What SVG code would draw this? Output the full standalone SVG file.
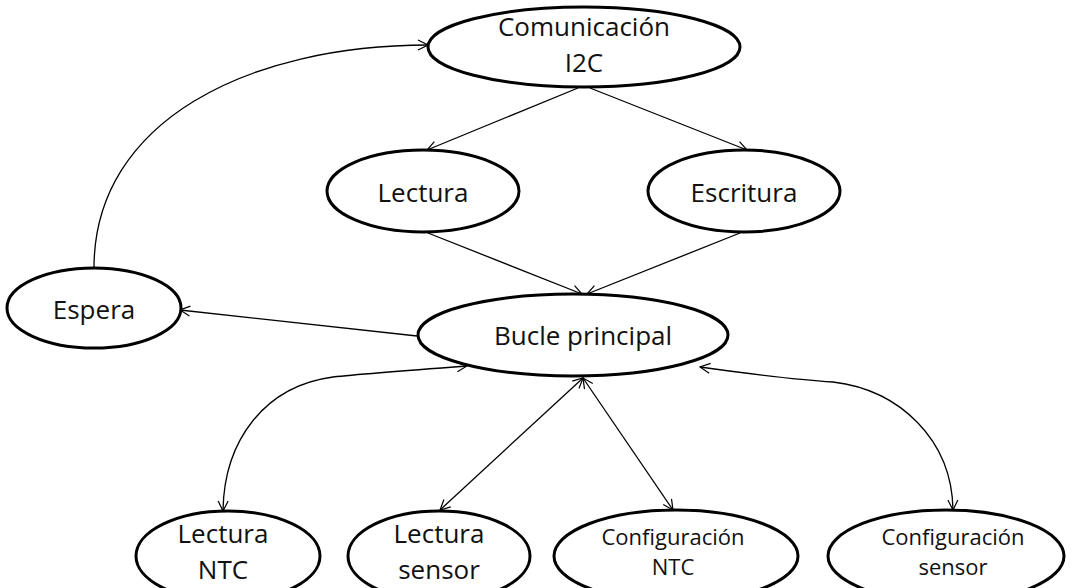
<svg xmlns="http://www.w3.org/2000/svg" width="1071" height="588" viewBox="0 0 1071 588">
<defs>
<marker id="arr" viewBox="0 0 12 12" refX="11" refY="6" markerWidth="12" markerHeight="12" markerUnits="userSpaceOnUse" orient="auto-start-reverse">
<path d="M1,1 L11,6 L1,11" fill="none" stroke="#000" stroke-width="1.2"/>
</marker>
<style>
.n ellipse{fill:#fff;stroke:#000;stroke-width:3}
.n text{font-family:"Open Sans","Liberation Sans",sans-serif;font-size:26px;fill:#111;text-anchor:middle}
.n text.s{font-size:22px}
#edges path{fill:none;stroke:#000;stroke-width:1.3}
</style>
</defs>
<rect width="1071" height="588" fill="#fff"/>
<g id="edges">
<path d="M94,268 C94,120 250,45 428,45" marker-end="url(#arr)"/>
<path d="M578,88 L427,150" marker-end="url(#arr)"/>
<path d="M590,88 L747,150" marker-end="url(#arr)"/>
<path d="M428,233 L582,294" marker-end="url(#arr)"/>
<path d="M740,233 L587,294" marker-end="url(#arr)"/>
<path d="M417,336 L180,310" marker-end="url(#arr)"/>
<path d="M467,366 C400,371 360,374 333,377 C265,386 224,440 223,511" marker-start="url(#arr)" marker-end="url(#arr)"/>
<path d="M583,378 L440,510" marker-start="url(#arr)" marker-end="url(#arr)"/>
<path d="M583,378 L673,510" marker-start="url(#arr)" marker-end="url(#arr)"/>
<path d="M700,367 C750,374 800,380 833,382 C900,390 952,440 953,510" marker-start="url(#arr)" marker-end="url(#arr)"/>
</g>
<g id="n-com" class="n"><ellipse cx="584" cy="47" rx="156" ry="40"/><text x="584" y="36">Comunicación</text><text x="584" y="72">I2C</text></g>
<g id="n-lectura" class="n"><ellipse cx="423" cy="191" rx="96" ry="41"/><text x="423" y="202">Lectura</text></g>
<g id="n-escritura" class="n"><ellipse cx="744" cy="191" rx="96" ry="41"/><text x="744" y="202">Escritura</text></g>
<g id="n-espera" class="n"><ellipse cx="94" cy="308" rx="87" ry="40"/><text x="94" y="319">Espera</text></g>
<g id="n-bucle" class="n"><ellipse cx="573" cy="335" rx="155" ry="41"/><text x="583" y="345">Bucle principal</text></g>
<g id="n-lntc" class="n"><ellipse cx="228" cy="556" rx="92" ry="45"/><text x="223" y="543">Lectura</text><text x="223" y="579">NTC</text></g>
<g id="n-lsensor" class="n"><ellipse cx="439" cy="556" rx="91" ry="45"/><text x="439" y="543">Lectura</text><text x="439" y="579">sensor</text></g>
<g id="n-cntc" class="n"><ellipse cx="676" cy="556" rx="122" ry="46"/><text class="s" x="673" y="545">Configuración</text><text class="s" x="673" y="575">NTC</text></g>
<g id="n-csensor" class="n"><ellipse cx="946" cy="556" rx="118" ry="46"/><text class="s" x="953" y="545">Configuración</text><text class="s" x="953" y="575">sensor</text></g>
</svg>
